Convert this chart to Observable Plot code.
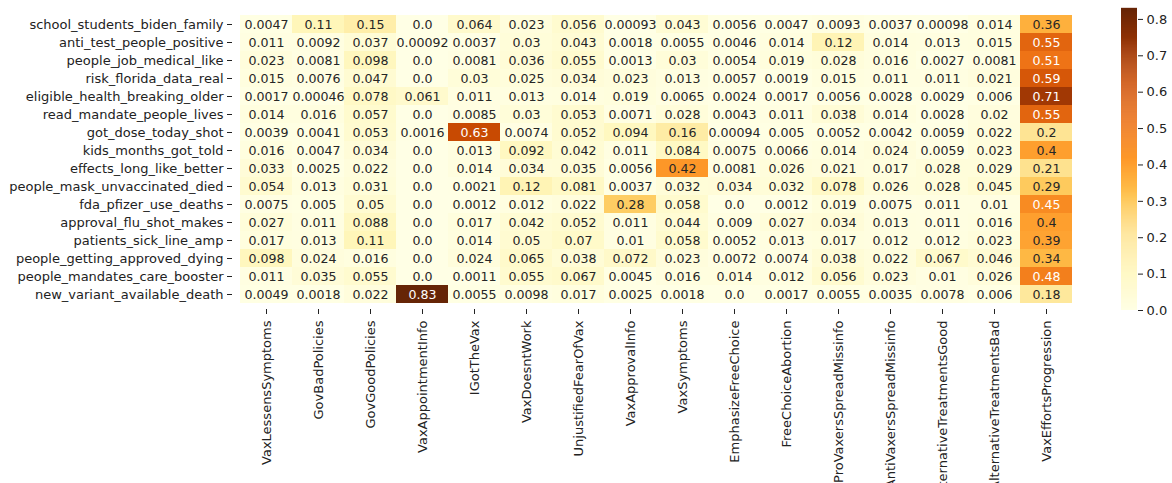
<!DOCTYPE html>
<html>
<head>
<meta charset="utf-8">
<script src="https://cdn.jsdelivr.net/npm/d3@7"></script>
<script src="https://cdn.jsdelivr.net/npm/@observablehq/plot@0.6"></script>
<style>
  body { margin: 0; background: #fff; }
  #wrap { position: relative; width: 1172px; height: 483px; overflow: hidden; }
  #main { position: absolute; left: 0; top: 0; }
  #bar { position: absolute; left: 1100px; top: 0; }
</style>
</head>
<body>
<div id="wrap"><div id="main"></div><div id="bar"></div></div>
<script>
const topics = [
  "school_students_biden_family","anti_test_people_positive","people_job_medical_like",
  "risk_florida_data_real","eligible_health_breaking_older","read_mandate_people_lives",
  "got_dose_today_shot","kids_months_got_told","effects_long_like_better",
  "people_mask_unvaccinated_died","fda_pfizer_use_deaths","approval_flu_shot_makes",
  "patients_sick_line_amp","people_getting_approved_dying","people_mandates_care_booster",
  "new_variant_available_death"
];
const categories = [
  "VaxLessensSymptoms","GovBadPolicies","GovGoodPolicies","VaxAppointmentInfo","IGotTheVax",
  "VaxDoesntWork","UnjustifiedFearOfVax","VaxApprovalInfo","VaxSymptoms","EmphasizeFreeChoice",
  "FreeChoiceAbortion","ProVaxersSpreadMissinfo","AntiVaxersSpreadMissinfo",
  "AlternativeTreatmentsGood","AlternativeTreatmentsBad","VaxEffortsProgression"
];
const values = [
  [0.0047,0.11,0.15,0.0,0.064,0.023,0.056,0.00093,0.043,0.0056,0.0047,0.0093,0.0037,0.00098,0.014,0.36],
  [0.011,0.0092,0.037,0.00092,0.0037,0.03,0.043,0.0018,0.0055,0.0046,0.014,0.12,0.014,0.013,0.015,0.55],
  [0.023,0.0081,0.098,0.0,0.0081,0.036,0.055,0.0013,0.03,0.0054,0.019,0.028,0.016,0.0027,0.0081,0.51],
  [0.015,0.0076,0.047,0.0,0.03,0.025,0.034,0.023,0.013,0.0057,0.0019,0.015,0.011,0.011,0.021,0.59],
  [0.0017,0.00046,0.078,0.061,0.011,0.013,0.014,0.019,0.0065,0.0024,0.0017,0.0056,0.0028,0.0029,0.006,0.71],
  [0.014,0.016,0.057,0.0,0.0085,0.03,0.053,0.0071,0.028,0.0043,0.011,0.038,0.014,0.0028,0.02,0.55],
  [0.0039,0.0041,0.053,0.0016,0.63,0.0074,0.052,0.094,0.16,0.00094,0.005,0.0052,0.0042,0.0059,0.022,0.2],
  [0.016,0.0047,0.034,0.0,0.013,0.092,0.042,0.011,0.084,0.0075,0.0066,0.014,0.024,0.0059,0.023,0.4],
  [0.033,0.0025,0.022,0.0,0.014,0.034,0.035,0.0056,0.42,0.0081,0.026,0.021,0.017,0.028,0.029,0.21],
  [0.054,0.013,0.031,0.0,0.0021,0.12,0.081,0.0037,0.032,0.034,0.032,0.078,0.026,0.028,0.045,0.29],
  [0.0075,0.005,0.05,0.0,0.0012,0.012,0.022,0.28,0.058,0.0,0.0012,0.019,0.0075,0.011,0.01,0.45],
  [0.027,0.011,0.088,0.0,0.017,0.042,0.052,0.011,0.044,0.009,0.027,0.034,0.013,0.011,0.016,0.4],
  [0.017,0.013,0.11,0.0,0.014,0.05,0.07,0.01,0.058,0.0052,0.013,0.017,0.012,0.012,0.023,0.39],
  [0.098,0.024,0.016,0.0,0.024,0.065,0.038,0.072,0.023,0.0072,0.0074,0.038,0.022,0.067,0.046,0.34],
  [0.011,0.035,0.055,0.0,0.0011,0.055,0.067,0.0045,0.016,0.014,0.012,0.056,0.023,0.01,0.026,0.48],
  [0.0049,0.0018,0.022,0.83,0.0055,0.0098,0.017,0.0025,0.0018,0.0,0.0017,0.0055,0.0035,0.0078,0.006,0.18]
];
const colorbarTicks = [0,0.1,0.2,0.3,0.4,0.5,0.6,0.7,0.8];

const vmax = 0.83;
const brewer = ["#ffffe5","#fff7bc","#fee391","#fec44f","#fe9929","#ec7014","#cc4c02","#993404","#662506"];
const stops = brewer.map((_, i) => i / (brewer.length - 1) * vmax);
const colorOpts = {type: "linear", domain: stops, range: brewer, interpolate: "rgb", clamp: true};
const cmap = d3.scaleLinear().domain(stops).range(brewer).interpolate(d3.interpolateRgb).clamp(true);

function lum(c) {
  const rgb = d3.rgb(c);
  const f = v => { v /= 255; return v <= 0.03928 ? v / 12.92 : Math.pow((v + 0.055) / 1.055, 2.4); };
  return 0.2126 * f(rgb.r) + 0.7152 * f(rgb.g) + 0.0722 * f(rgb.b);
}
const fmt = v => v === 0 ? "0.0" : d3.format(".2~g")(v);

const data = [];
topics.forEach((t, i) => categories.forEach((c, j) => {
  const v = values[i][j];
  data.push({topic: t, cat: c, value: v, label: fmt(v), dark: lum(cmap(v)) > 0.408});
}));

const font = "DejaVu Sans, Liberation Sans, sans-serif";
const main = Plot.plot({
  width: 1100, height: 483,
  marginLeft: 232, marginRight: 21, marginTop: 8, marginBottom: 174,
  style: {fontFamily: font, fontSize: "13px", color: "#222", background: "#fff"},
  x: {domain: categories, padding: 0, label: null},
  y: {domain: topics, padding: 0, label: null},
  color: colorOpts,
  marks: [
    Plot.cell(data, {x: "cat", y: "topic", fill: "value", inset: 0}),
    Plot.text(data.filter(d => d.dark), {x: "cat", y: "topic", text: "label", fill: "#262626", fontSize: 12.6}),
    Plot.text(data.filter(d => !d.dark), {x: "cat", y: "topic", text: "label", fill: "#ffffff", fontSize: 12.6}),
    Plot.axisX({anchor: "bottom", tickRotate: -90, tickSize: 5, tickPadding: 6, label: null, fontSize: 13}),
    Plot.axisY({anchor: "left", tickSize: 5, tickPadding: 4, label: null, fontSize: 13})
  ]
});
document.getElementById("main").appendChild(main);

const steps = d3.range(0, 300).map(i => ({y1: i / 300 * vmax, y2: (i + 1) / 300 * vmax + 0.0005, v: (i + 0.5) / 300 * vmax}));
const bar = Plot.plot({
  width: 72, height: 320,
  marginLeft: 21, marginRight: 35, marginTop: 8, marginBottom: 10,
  style: {fontFamily: font, fontSize: "13px", color: "#222", background: "#fff"},
  x: {domain: [0, 1], axis: null},
  y: {domain: [0, vmax], label: null},
  color: colorOpts,
  marks: [
    Plot.rect(steps, {x1: 0, x2: 1, y1: "y1", y2: "y2", fill: "v"}),
    Plot.axisY({anchor: "right", ticks: colorbarTicks, tickFormat: d3.format(".1f"), tickSize: 5, tickPadding: 4, label: null, fontSize: 13})
  ]
});
document.getElementById("bar").appendChild(bar);
</script>
</body>
</html>
